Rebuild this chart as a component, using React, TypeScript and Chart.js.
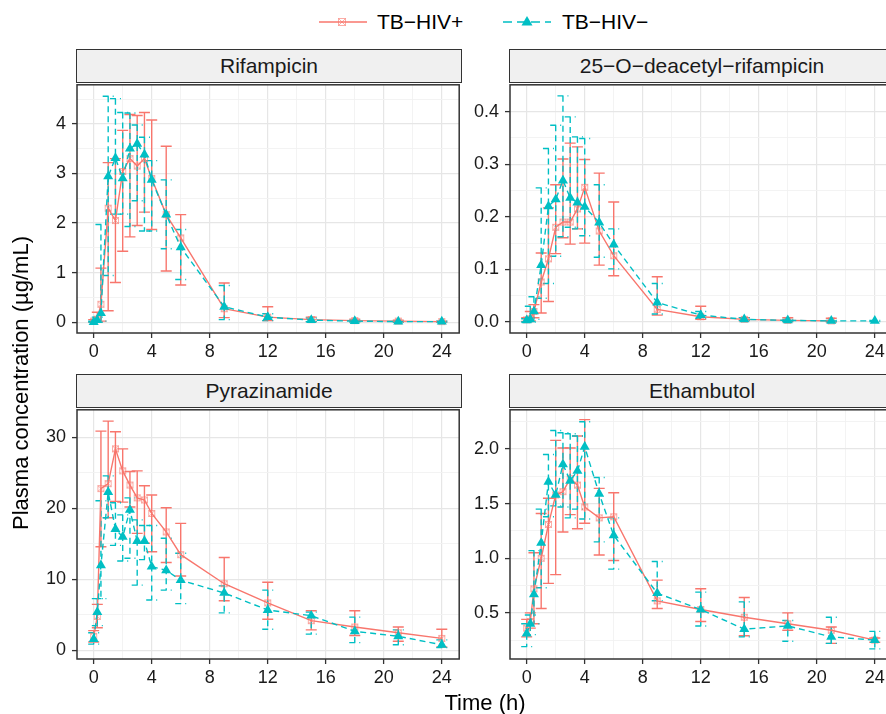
import React, { useEffect, useRef } from 'react';
import { Chart, registerables } from 'chart.js';

Chart.register(...registerables);

// ---------------- DATA ----------------
const times = [0, 0.25, 0.5, 1, 1.5, 2, 2.5, 3, 3.5, 4, 5, 6, 9, 12, 15, 18, 21, 24];
const seriesNames = ['TB\u2212HIV+', 'TB\u2212HIV\u2212'];
const panelTitles = ['Rifampicin', '25\u2212O\u2212deacetyl\u2212rifampicin', 'Pyrazinamide', 'Ethambutol'];

// Rifampicin
const rifPosMean = [0.02, 0.06, 0.36, 2.3, 2.05, 3.04, 3.3, 3.15, 3.3, 2.9, 2.17, 1.7, 0.27, 0.1, 0.05, 0.03, 0.02, 0.01];
const rifPosLo = [0, 0, 0.02, 0.23, 0.8, 1.43, 1.72, 1.95, 2.22, 1.87, 1.03, 0.75, 0.09, 0.03, 0.01, 0.01, 0, 0];
const rifPosHi = [0.05, 0.2, 1.09, 3.22, 3.3, 3.87, 4.19, 4.17, 4.23, 4.08, 3.55, 2.17, 0.79, 0.31, 0.1, 0.06, 0.04, 0.02];
const rifNegMean = [0.0, 0.04, 0.18, 2.94, 3.31, 2.9, 3.5, 3.6, 3.38, 2.87, 2.17, 1.51, 0.31, 0.1, 0.04, 0.02, 0.01, 0.01];
const rifNegLo = [0, 0, 0.02, 0.94, 2.18, 2.18, 1.93, 2.45, 1.84, 1.84, 1.48, 0.86, 0.05, 0.03, 0.01, 0, 0, 0];
const rifNegHi = [0.02, 0.1, 1.97, 4.56, 4.51, 4.23, 4.22, 3.98, 3.73, 3.26, 2.87, 1.87, 0.74, 0.17, 0.08, 0.04, 0.02, 0.02];

// 25-O-deacetyl-rifampicin
const desPosMean = [0.004, 0.006, 0.02, 0.076, 0.12, 0.18, 0.19, 0.19, 0.215, 0.256, 0.173, 0.126, 0.024, 0.01, 0.005, 0.003, 0.002, null];
const desPosLo = [0.001, 0.002, 0.008, 0.017, 0.039, 0.13, 0.16, 0.148, 0.177, 0.15, 0.108, 0.088, 0.013, 0.005, 0.002, 0.001, 0, null];
const desPosHi = [0.008, 0.02, 0.033, 0.131, 0.217, 0.261, 0.31, 0.34, 0.333, 0.309, 0.283, 0.228, 0.086, 0.03, 0.008, 0.008, 0.007, null];
const desNegMean = [0.003, 0.005, 0.02, 0.108, 0.22, 0.233, 0.269, 0.236, 0.227, 0.219, 0.189, 0.147, 0.037, 0.013, 0.005, 0.003, 0.002, 0.002];
const desNegLo = [0, 0, 0.005, 0.045, 0.073, 0.125, 0.162, 0.18, 0.177, 0.164, 0.123, 0.101, 0.015, 0.007, 0.003, 0.001, 0.001, 0.001];
const desNegHi = [0.006, 0.03, 0.048, 0.255, 0.33, 0.374, 0.43, 0.39, 0.352, 0.349, 0.261, 0.177, 0.073, 0.02, 0.008, 0.005, 0.003, 0.003];

// Pyrazinamide
const pzaPosMean = [2.0, 4.8, 22.8, 23.5, 28.4, 25.3, 23.3, 21.5, 21.2, 19.3, 16.7, 13.5, 9.4, 6.7, 4.2, 3.3, 2.5, 1.7];
const pzaPosLo = [1.2, 3.2, 14.6, 18.7, 21.0, 20.9, 20.2, 16.5, 15.1, 13.9, 12.4, 10.5, 7.0, 4.4, 2.9, 2.1, 1.3, 0.5];
const pzaPosHi = [2.8, 6.5, 30.9, 32.3, 30.8, 28.4, 25.2, 25.3, 23.2, 21.9, 20.1, 17.9, 13.1, 9.6, 5.6, 5.6, 3.3, 3.0];
const pzaNegMean = [1.6, 5.4, 12.0, 22.3, 17.1, 16.0, 19.8, 15.4, 15.4, 11.8, 11.3, 9.9, 8.1, 5.7, 4.9, 2.7, 2.0, 0.8];
const pzaNegLo = [0.9, 3.5, 7.3, 18.7, 14.8, 12.6, 13.0, 9.2, 12.8, 7.1, 8.5, 6.6, 5.3, 3.0, 2.3, 1.1, 0.8, 0.4];
const pzaNegHi = [2.5, 7.3, 21.1, 24.6, 20.8, 19.1, 21.5, 18.4, 17.6, 17.6, 15.8, 13.7, 9.1, 8.5, 5.4, 4.7, 2.9, 1.5];

// Ethambutol
const embPosMean = [0.36, 0.42, 0.72, 1.0, 1.31, 1.58, 1.61, 1.73, 1.67, 1.47, 1.37, 1.38, 0.61, 0.53, 0.46, 0.4, 0.34, 0.25];
const embPosLo = [0.28, 0.36, 0.4, 0.54, 0.77, 0.85, 1.24, 1.4, 1.27, 1.32, 1.03, 0.98, 0.54, 0.42, 0.29, 0.34, 0.22, 0.23];
const embPosHi = [0.44, 0.5, 1.05, 1.41, 1.55, 2.08, 2.01, 2.01, 2.12, 2.27, 1.64, 1.6, 0.8, 0.72, 0.64, 0.5, 0.37, 0.27];
const embNegMean = [0.31, 0.4, 0.67, 1.14, 1.7, 1.58, 1.86, 1.71, 1.8, 2.02, 1.59, 1.21, 0.68, 0.53, 0.35, 0.38, 0.28, 0.25];
const embNegLo = [0.19, 0.3, 0.4, 0.73, 1.38, 1.48, 1.47, 1.37, 1.45, 1.36, 1.15, 0.9, 0.61, 0.38, 0.28, 0.24, 0.22, 0.17];
const embNegHi = [0.4, 0.48, 1.07, 1.45, 1.95, 2.17, 2.15, 2.14, 2.12, 2.25, 1.74, 1.37, 0.97, 0.69, 0.6, 0.43, 0.46, 0.33];

// Axis ticks
const xTicks = [0, 4, 8, 12, 16, 20, 24];
const xTickLabels = ['0', '4', '8', '12', '16', '20', '24'];
const rifTicks = [0, 1, 2, 3, 4];
const rifTickLabels = ['0', '1', '2', '3', '4'];
const desTicks = [0, 0.1, 0.2, 0.3, 0.4];
const desTickLabels = ['0.0', '0.1', '0.2', '0.3', '0.4'];
const pzaTicks = [0, 10, 20, 30];
const pzaTickLabels = ['0', '10', '20', '30'];
const embTicks = [0.5, 1.0, 1.5, 2.0];
const embTickLabels = ['0.5', '1.0', '1.5', '2.0'];

// Axis ranges
const xRange = [-1.15, 25.2];
const rifRange = [-0.22, 4.79];
const desRange = [-0.021, 0.451];
const pzaRange = [-1.2, 33.9];
const embRange = [0.077, 2.36];

const yTitle = 'Plasma concentration (\u00b5g/mL)';
const xTitle = 'Time (h)';

// ---------------- STYLE / LAYOUT ----------------
const RED = '#F8766D';
const BLUE = '#00BFC4';
const FONT = "'Liberation Sans', Arial, Helvetica, sans-serif";
const PADL = 60;
const PADT = 3;
const PADR = 4;
const PADB = 45;
const STRIP_H = 33;
const AREAS = [
  { x: 77, y: 82, w: 384, h: 251 },
  { x: 510, y: 82, w: 384, h: 251 },
  { x: 77, y: 407, w: 384, h: 252 },
  { x: 510, y: 407, w: 384, h: 252 },
];

const panels = [
  { title: panelTitles[0], pos: [rifPosMean, rifPosLo, rifPosHi], neg: [rifNegMean, rifNegLo, rifNegHi], range: rifRange, ticks: rifTicks, labels: rifTickLabels },
  { title: panelTitles[1], pos: [desPosMean, desPosLo, desPosHi], neg: [desNegMean, desNegLo, desNegHi], range: desRange, ticks: desTicks, labels: desTickLabels },
  { title: panelTitles[2], pos: [pzaPosMean, pzaPosLo, pzaPosHi], neg: [pzaNegMean, pzaNegLo, pzaNegHi], range: pzaRange, ticks: pzaTicks, labels: pzaTickLabels },
  { title: panelTitles[3], pos: [embPosMean, embPosLo, embPosHi], neg: [embNegMean, embNegLo, embNegHi], range: embRange, ticks: embTicks, labels: embTickLabels },
];

function withMinor(major: number[], range: number[]) {
  const step = major[1] - major[0];
  const out: number[] = [];
  const start = major[0] - step / 2;
  for (let v = start; v <= range[1] + 1e-9; v += step / 2) {
    if (v >= range[0] - 1e-9) out.push(Math.round(v * 1e6) / 1e6);
  }
  return out;
}

function isMajor(v: number, major: number[]) {
  return major.some((m) => Math.abs(m - v) < 1e-6);
}

function labelFor(v: number, major: number[], labels: string[]) {
  const i = major.findIndex((m) => Math.abs(m - v) < 1e-6);
  return i >= 0 ? labels[i] : '';
}

function makeSquareX(color: string) {
  const c = document.createElement('canvas');
  c.width = 9;
  c.height = 9;
  const g = c.getContext('2d')!;
  g.strokeStyle = color;
  g.lineWidth = 1;
  g.strokeRect(1.5, 1.5, 6, 6);
  g.beginPath();
  g.moveTo(1.5, 1.5);
  g.lineTo(7.5, 7.5);
  g.moveTo(7.5, 1.5);
  g.lineTo(1.5, 7.5);
  g.stroke();
  return c;
}

function toPoints(vals: (number | null)[]) {
  const pts: { x: number; y: number }[] = [];
  vals.forEach((v, i) => {
    if (v !== null && v !== undefined) pts.push({ x: times[i], y: v });
  });
  return pts;
}

function zeroPadding(s: any) {
  s.paddingTop = 0;
  s.paddingBottom = 0;
  s.paddingLeft = 0;
  s.paddingRight = 0;
}

function Panel({ p, area }: { p: any; area: any }) {
  const ref = useRef<HTMLCanvasElement>(null);
  const W = area.w + PADL + PADR;
  const H = area.h + PADT + PADB;
  useEffect(() => {
    const xAll = withMinor(xTicks, xRange);
    const yAll = withMinor(p.ticks, p.range);
    const series = [
      { vals: p.pos, color: RED, dash: [] as number[] },
      { vals: p.neg, color: BLUE, dash: [6, 4] },
    ];
    const errPlugin = {
      id: 'errbars',
      beforeDatasetsDraw(chart: any) {
        const { ctx, chartArea, scales } = chart;
        ctx.save();
        ctx.beginPath();
        ctx.rect(chartArea.left, chartArea.top, chartArea.right - chartArea.left, chartArea.bottom - chartArea.top);
        ctx.clip();
        for (const s of series) {
          ctx.strokeStyle = s.color;
          ctx.lineWidth = 1.4;
          ctx.setLineDash(s.dash);
          const lo = s.vals[1];
          const hi = s.vals[2];
          for (let i = 0; i < times.length; i++) {
            if (lo[i] === null || hi[i] === null) continue;
            const px = scales.x.getPixelForValue(times[i]);
            const y1 = scales.y.getPixelForValue(lo[i]);
            const y2 = scales.y.getPixelForValue(hi[i]);
            const cap = 5.5;
            ctx.beginPath();
            ctx.moveTo(px - cap, y2);
            ctx.lineTo(px + cap, y2);
            ctx.moveTo(px, y2);
            ctx.lineTo(px, y1);
            ctx.moveTo(px - cap, y1);
            ctx.lineTo(px + cap, y1);
            ctx.stroke();
          }
        }
        ctx.restore();
      },
    };
    const borderPlugin = {
      id: 'panelBorder',
      afterDraw(chart: any) {
        const { ctx, chartArea } = chart;
        ctx.save();
        ctx.strokeStyle = '#333333';
        ctx.lineWidth = 1.5;
        ctx.setLineDash([]);
        ctx.strokeRect(chartArea.left, chartArea.top, chartArea.right - chartArea.left, chartArea.bottom - chartArea.top);
        ctx.restore();
      },
    };
    const tickFont = { family: FONT, size: 18 };
    const gridOpts = (major: number[]) => ({
      drawOnChartArea: true,
      drawTicks: true,
      tickLength: 5,
      color: (c: any) => (isMajor(c.tick.value, major) ? '#E6E6E6' : '#F2F2F2'),
      lineWidth: (c: any) => (isMajor(c.tick.value, major) ? 1.2 : 0.9),
      tickColor: (c: any) => (isMajor(c.tick.value, major) ? '#333333' : 'rgba(0,0,0,0)'),
      tickWidth: 1.3,
    });
    const chart = new Chart(ref.current!, {
      type: 'line',
      data: {
        datasets: [
          {
            label: seriesNames[1],
            data: toPoints(p.neg[0]),
            borderColor: BLUE,
            backgroundColor: BLUE,
            borderWidth: 1.4,
            borderDash: [6, 4],
            pointStyle: 'triangle',
            pointRadius: 5.8,
            pointBackgroundColor: BLUE,
            pointBorderColor: BLUE,
            pointBorderWidth: 0,
            tension: 0,
            fill: false,
          },
          {
            label: seriesNames[0],
            data: toPoints(p.pos[0]),
            borderColor: RED,
            backgroundColor: RED,
            borderWidth: 1.4,
            pointStyle: makeSquareX('rgba(248,118,109,0.6)') as any,
            pointRadius: 4,
            tension: 0,
            fill: false,
          },
        ],
      },
      options: {
        animation: false,
        responsive: false,
        events: [],
        layout: { padding: { left: 0, top: PADT, right: PADR, bottom: 0 } },
        plugins: { legend: { display: false }, tooltip: { enabled: false }, title: { display: false } },
        scales: {
          x: {
            type: 'linear',
            min: xRange[0],
            max: xRange[1],
            afterBuildTicks: (s: any) => {
              s.ticks = xAll.map((v) => ({ value: v }));
            },
            afterFit: (s: any) => {
              s.height = PADB;
              zeroPadding(s);
            },
            ticks: {
              autoSkip: false,
              maxRotation: 0,
              padding: 3,
              color: '#1a1a1a',
              font: tickFont,
              callback: (v: any) => labelFor(Number(v), xTicks, xTickLabels),
            },
            grid: gridOpts(xTicks) as any,
            border: { display: false },
          },
          y: {
            type: 'linear',
            min: p.range[0],
            max: p.range[1],
            afterBuildTicks: (s: any) => {
              s.ticks = yAll.map((v) => ({ value: v }));
            },
            afterFit: (s: any) => {
              s.width = PADL;
              zeroPadding(s);
            },
            ticks: {
              autoSkip: false,
              padding: 6,
              color: '#1a1a1a',
              font: tickFont,
              callback: (v: any) => labelFor(Number(v), p.ticks, p.labels),
            },
            grid: gridOpts(p.ticks) as any,
            border: { display: false },
          },
        },
      } as any,
      plugins: [errPlugin, borderPlugin],
    });
    return () => chart.destroy();
  }, []);
  return (
    <>
      <div
        style={{
          position: 'absolute',
          left: area.x - 0.75,
          top: area.y - STRIP_H,
          width: area.w + 1.5,
          height: STRIP_H + 0.75,
          boxSizing: 'border-box',
          border: '1.5px solid #333',
          background: '#F0F0F0',
          display: 'flex',
          alignItems: 'center',
          justifyContent: 'center',
          fontFamily: FONT,
          fontSize: 21,
          color: '#1a1a1a',
        }}
      >
        {p.title}
      </div>
      <canvas
        ref={ref}
        width={W}
        height={H}
        style={{ position: 'absolute', left: area.x - PADL, top: area.y - PADT, width: W, height: H }}
      />
    </>
  );
}

function LegendKeyRed() {
  return (
    <svg width={50} height={20} style={{ position: 'absolute', left: 318, top: 12 }}>
      <line x1={1} y1={10} x2={49} y2={10} stroke={RED} strokeWidth={1.6} />
      <rect x={20.5} y={6.5} width={7} height={7} fill="none" stroke="rgba(248,118,109,0.6)" strokeWidth={1} />
      <line x1={20.5} y1={6.5} x2={27.5} y2={13.5} stroke="rgba(248,118,109,0.6)" strokeWidth={1} />
      <line x1={27.5} y1={6.5} x2={20.5} y2={13.5} stroke="rgba(248,118,109,0.6)" strokeWidth={1} />
    </svg>
  );
}

function LegendKeyBlue() {
  return (
    <svg width={50} height={20} style={{ position: 'absolute', left: 502, top: 12 }}>
      <line x1={1} y1={10} x2={49} y2={10} stroke={BLUE} strokeWidth={1.6} strokeDasharray="9 5" />
      <polygon points="25,4 30.5,13.5 19.5,13.5" fill={BLUE} />
    </svg>
  );
}

export default function App() {
  const textStyle = { position: 'absolute' as const, fontFamily: FONT, color: '#000', whiteSpace: 'nowrap' as const };
  return (
    <div style={{ position: 'absolute', left: 0, top: 0, width: 886, height: 714, overflow: 'hidden', background: '#fff' }}>
      <LegendKeyRed />
      <div style={{ ...textStyle, left: 377, top: 8, fontSize: 21, lineHeight: '27px' }}>{seriesNames[0]}</div>
      <LegendKeyBlue />
      <div style={{ ...textStyle, left: 562, top: 8, fontSize: 21, lineHeight: '27px' }}>{seriesNames[1]}</div>
      {panels.map((p, i) => (
        <Panel key={i} p={p} area={AREAS[i]} />
      ))}
      <div
        style={{
          ...textStyle,
          left: 21 - 200,
          top: 383 - 14,
          width: 400,
          height: 28,
          lineHeight: '28px',
          textAlign: 'center',
          fontSize: 22,
          transform: 'rotate(-90deg)',
          transformOrigin: '50% 50%',
        }}
      >
        {yTitle}
      </div>
      <div
        style={{
          ...textStyle,
          left: 485 - 100,
          top: 703 - 14,
          width: 200,
          lineHeight: '28px',
          textAlign: 'center',
          fontSize: 22,
        }}
      >
        {xTitle}
      </div>
    </div>
  );
}
